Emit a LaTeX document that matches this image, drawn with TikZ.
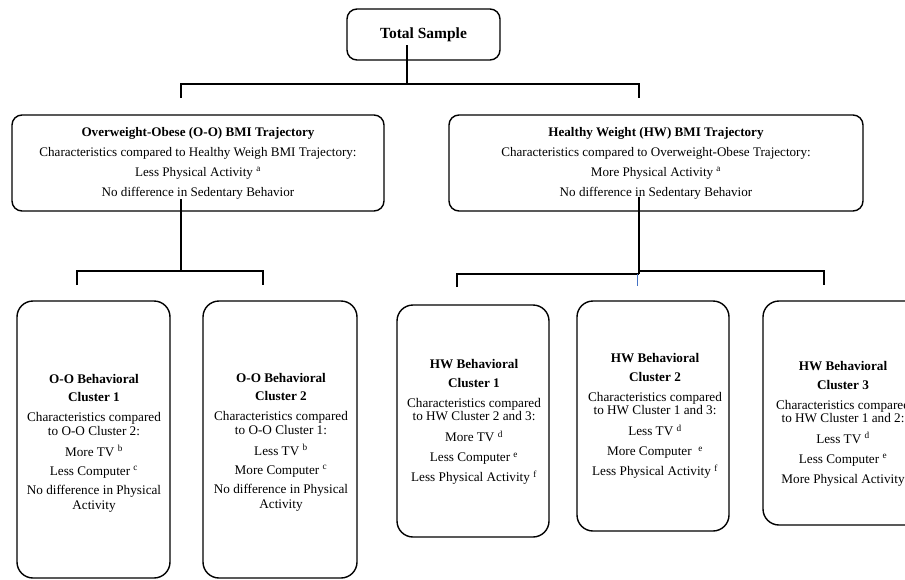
\documentclass[tikz,border=0pt]{standalone}
\usepackage{fontspec}
\setmainfont{Liberation Serif}
\begin{document}
\begin{tikzpicture}[x=1pt,y=-1pt,
  bigbox/.style={draw,line width=1.4pt,rounded corners=10pt,inner sep=0pt},
  clbox/.style={draw,line width=1.4pt,rounded corners=16pt,inner sep=0pt},
  conn/.style={line width=1.4pt},
  bluemark/.style={line width=0.8pt,draw={rgb,255:red,68;green,114;blue,196}},
  bigtxt/.style={align=center,inner sep=0pt,font=\fontsize{13.1}{20}\selectfont},
  cltxt/.style={align=center,inner sep=0pt,font=\fontsize{13.2}{15}\selectfont}]
\useasboundingbox (0,0) rectangle (905,579);
\clip (0,0) rectangle (905,579);

% top box
\node[bigbox,minimum width=153pt,minimum height=51pt,font=\fontsize{15.5}{18}\selectfont\bfseries] (total) at (423.5,34.5) {Total Sample};

% trajectory boxes
\node[bigbox,minimum width=372pt,minimum height=96pt] (oo) at (198,163) {};
\node[bigtxt] (ootxt) at (198,163) {{\bfseries Overweight-Obese (O-O) BMI Trajectory}\\
Characteristics compared to Healthy Weigh BMI Trajectory:\\
Less Physical Activity \textsuperscript{a}\\
No difference in Sedentary Behavior};

\node[bigbox,minimum width=414pt,minimum height=96pt] (hw) at (656,163) {};
\node[bigtxt] (hwtxt) at (656,163) {{\bfseries Healthy Weight (HW) BMI Trajectory}\\
Characteristics compared to Overweight-Obese Trajectory:\\
More Physical Activity \textsuperscript{a}\\
No difference in Sedentary Behavior};

% cluster boxes
\node[clbox,minimum width=153pt,minimum height=277pt] (oo1) at (93.5,439.5) {};
\node[cltxt] (oo1txt) at (94,443) {{\bfseries O-O Behavioral}\\[3pt]
{\bfseries Cluster 1}\\[5pt]
Characteristics compared\\[-1pt]
to O-O Cluster 2:\\[6pt]
More TV \textsuperscript{b}\\[4pt]
Less Computer \textsuperscript{c}\\[4pt]
No difference in Physical\\
Activity};

\node[clbox,minimum width=154pt,minimum height=277pt] (oo2) at (280,439.5) {};
\node[cltxt] (oo2txt) at (281,442) {{\bfseries O-O Behavioral}\\[3pt]
{\bfseries Cluster 2}\\[5pt]
Characteristics compared\\[-1pt]
to O-O Cluster 1:\\[6pt]
Less TV \textsuperscript{b}\\[4pt]
More Computer \textsuperscript{c}\\[4pt]
No difference in Physical\\
Activity};

\node[clbox,minimum width=152pt,minimum height=232pt] (hw1) at (473,421) {};
\node[cltxt] (hw1txt) at (474,422) {{\bfseries HW Behavioral}\\[4pt]
{\bfseries Cluster 1}\\[5pt]
Characteristics compared\\[-2pt]
to HW Cluster 2 and 3:\\[6pt]
More TV \textsuperscript{d}\\[5pt]
Less Computer \textsuperscript{e}\\[5pt]
Less Physical Activity \textsuperscript{f}};

\node[clbox,minimum width=152pt,minimum height=230pt] (hw2) at (653,416) {};
\node[cltxt] (hw2txt) at (655,416) {{\bfseries HW Behavioral}\\[4pt]
{\bfseries Cluster 2}\\[5pt]
Characteristics compared\\[-2pt]
to HW Cluster 1 and 3:\\[6pt]
Less TV \textsuperscript{d}\\[5pt]
More Computer\ \ \textsuperscript{e}\\[5pt]
Less Physical Activity \textsuperscript{f}};

\node[clbox,minimum width=160pt,minimum height=224pt] (hw3) at (843,413) {};
\node[cltxt] (hw3txt) at (843,423.5) {{\bfseries HW Behavioral}\\[4pt]
{\bfseries Cluster 3}\\[5pt]
Characteristics compared\\[-2pt]
to HW Cluster 1 and 2:\\[6pt]
Less TV \textsuperscript{d}\\[5pt]
Less Computer \textsuperscript{e}\\[5pt]
More Physical Activity};

% connector coordinates
\coordinate (tsstem) at (407,45);
\coordinate (j0) at (407,84);
\coordinate (j0l) at (181,84);
\coordinate (j0r) at (639,84);
\coordinate (d0l) at (181,98);
\coordinate (d0r) at (639,98);

\coordinate (oostem) at (181,199);
\coordinate (j1) at (181,271);
\coordinate (j1l) at (77,271);
\coordinate (j1r) at (263,271);
\coordinate (d1l) at (77,285);
\coordinate (d1r) at (263,285);

\coordinate (hwstem) at (639,197);
\coordinate (j2) at (639,274);
\coordinate (j2a) at (639,271);
\coordinate (j2l) at (457,274);
\coordinate (j2r) at (824,271);
\coordinate (d2l) at (457,287);
\coordinate (d2r) at (824,285);
\coordinate (bm1) at (637.5,274);
\coordinate (bm2) at (637.5,286);

% connectors
\draw[conn] (tsstem) -- (j0);
\draw[conn] (d0l) -- (j0l) -- (j0r) -- (d0r);

\draw[conn] (oostem) -- (j1);
\draw[conn] (d1l) -- (j1l) -- (j1r) -- (d1r);

\draw[conn] (hwstem) -- (j2);
\draw[conn] (d2l) -- (j2l) -- (j2);
\draw[conn] (j2) -- (j2a) -- (j2r) -- (d2r);
\draw[bluemark] (bm1) -- (bm2);
\end{tikzpicture}
\end{document}
